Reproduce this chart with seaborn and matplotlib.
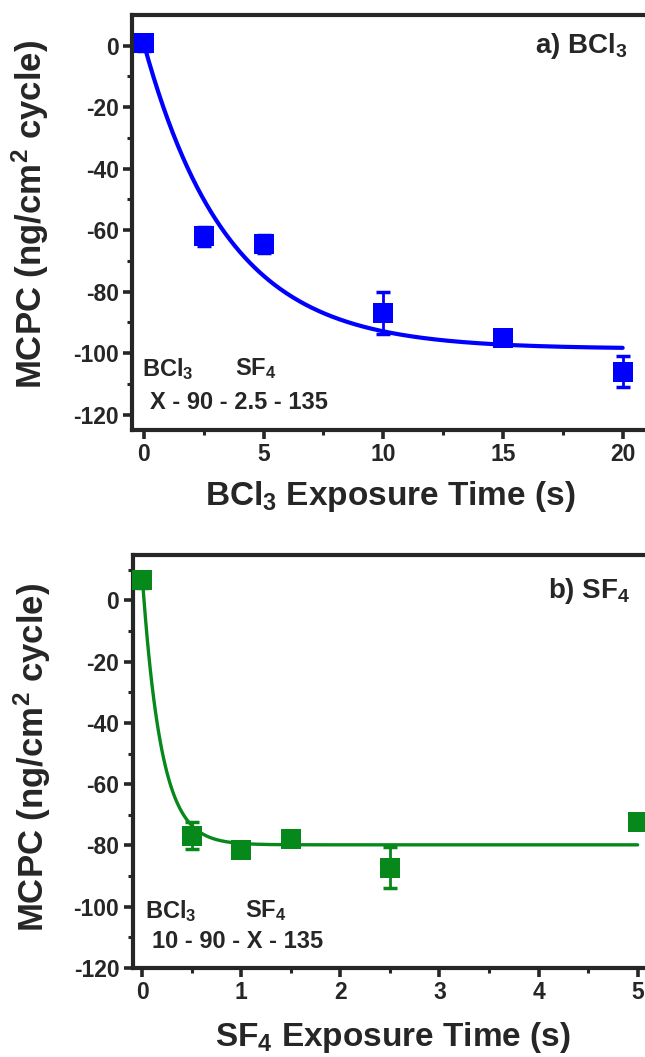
import numpy as np
import pandas as pd
import matplotlib
matplotlib.use("Agg")
import matplotlib.pyplot as plt
import seaborn as sns

## Data
# a) BCl3 exposure series
bcl3_time = [0, 2.5, 5, 10, 15, 20]
bcl3_mcpc = [0.8, -62, -64.5, -87, -95, -106]
bcl3_err = [2.5, 3, 3, 6.8, 2, 5]
# exponential fit  y = plateau + (y0 - plateau) * exp(-t / tau)
bcl3_fit = {"y0": 0.5, "plateau": -98.6, "tau": 3.5}

# b) SF4 exposure series
sf4_time = [0, 0.5, 1, 1.5, 2.5, 5]
sf4_mcpc = [6.5, -76.8, -81.5, -78, -87.3, -72.2]
sf4_err = [2.5, 4.3, 1.8, 2, 6.7, 2.5]
sf4_fit = {"y0": 8.5, "plateau": -79.8, "tau": 0.19}

blue = "#0000FF"
green = "#06881A"

sns.set_style("ticks")
plt.rcParams["font.family"] = ["Liberation Sans", "DejaVu Sans"]
plt.rcParams["mathtext.default"] = "regular"
plt.rcParams["axes.linewidth"] = 3
plt.rcParams["axes.unicode_minus"] = False


def fit_curve(t_end, p):
    t = np.linspace(0, t_end, 300)
    y = p["plateau"] + (p["y0"] - p["plateau"]) * np.exp(-t / p["tau"])
    return pd.DataFrame({"t": t, "y": y})


def panel(ax, t, y, err, fit, color, ms, lw):
    df = pd.DataFrame({"t": t, "y": y})
    sns.lineplot(data=fit_curve(max(t), fit), x="t", y="y", ax=ax, color=color, lw=lw, zorder=2)
    ax.errorbar(t, y, yerr=err, fmt="none", ecolor=color, elinewidth=2, capsize=5, capthick=2.5, zorder=3)
    sns.scatterplot(data=df, x="t", y="y", ax=ax, marker="s", s=ms ** 2, color=color,
                    edgecolor=color, linewidth=0, zorder=4, clip_on=False)
    ax.set_xlabel("")
    ax.set_ylabel("")
    ax.tick_params(which="major", direction="out", length=6.5, width=2.6, labelsize=16.5, pad=3)
    ax.tick_params(which="minor", direction="out", length=3.5, width=2.2)
    for lab in ax.get_xticklabels() + ax.get_yticklabels():
        lab.set_fontweight("bold")


def note(ax, x, y, s, size=17):
    ax.text(x, y, s, transform=ax.transAxes, ha="left", va="top", fontsize=size, fontweight="bold")


fig = plt.figure(figsize=(6.45, 10.57), dpi=100)

## Panel a
ax1 = fig.add_axes([132 / 645, 1 - 430 / 1057, 517 / 645, 415 / 1057])
panel(ax1, bcl3_time, bcl3_mcpc, bcl3_err, bcl3_fit, blue, 14, 3)
ax1.set_xlim(-0.5, 21.1)
ax1.set_ylim(-125, 10)
ax1.set_xticks([0, 5, 10, 15, 20])
ax1.set_xticks([2.5, 7.5, 12.5, 17.5], minor=True)
ax1.set_yticks(np.arange(-120, 1, 20))
ax1.set_yticks(np.arange(-110, 1, 20), minor=True)
ax1.tick_params(axis="y", which="major", right=True)

ax1.text(0.958, 0.962, "a) BCl$_3$", transform=ax1.transAxes, ha="right", va="top",
         fontsize=20, fontweight="bold")
note(ax1, 0.02, 0.178, "BCl$_3$")
note(ax1, 0.199, 0.178, "SF$_4$")
note(ax1, 0.034, 0.094, "X - 90 - 2.5 - 135")
ax1.set_ylabel("MCPC (ng/cm$^2$ cycle)", fontsize=25, fontweight="bold")
ax1.yaxis.set_label_coords(-0.157, 0.52)
ax1.set_xlabel("BCl$_3$ Exposure Time (s)", fontsize=24, fontweight="bold")
ax1.xaxis.set_label_coords(0.5, -0.118)

## Panel b
ax2 = fig.add_axes([132.5 / 645, 1 - 968 / 1057, 520 / 645, 413 / 1057])
panel(ax2, sf4_time, sf4_mcpc, sf4_err, sf4_fit, green, 14.5, 2.4)
ax2.set_xlim(-0.097, 5.15)
ax2.set_ylim(-120, 14.8)
ax2.set_xticks([0, 1, 2, 3, 4, 5])
ax2.set_xticks([0.5, 1.5, 2.5, 3.5, 4.5], minor=True)
ax2.set_yticks(np.arange(-120, 1, 20))
ax2.set_yticks(np.arange(-110, 11, 20), minor=True)

ax2.text(0.957, 0.95, "b) SF$_4$", transform=ax2.transAxes, ha="right", va="top",
         fontsize=20, fontweight="bold")
note(ax2, 0.024, 0.17, "BCl$_3$")
note(ax2, 0.216, 0.17, "SF$_4$")
note(ax2, 0.037, 0.092, "10 - 90 - X - 135")
ax2.set_ylabel("MCPC (ng/cm$^2$ cycle)", fontsize=25, fontweight="bold")
ax2.yaxis.set_label_coords(-0.153, 0.51)
ax2.set_xlabel("SF$_4$ Exposure Time (s)", fontsize=24, fontweight="bold")
ax2.xaxis.set_label_coords(0.5, -0.126)

fig.savefig("out.png", dpi=100)
